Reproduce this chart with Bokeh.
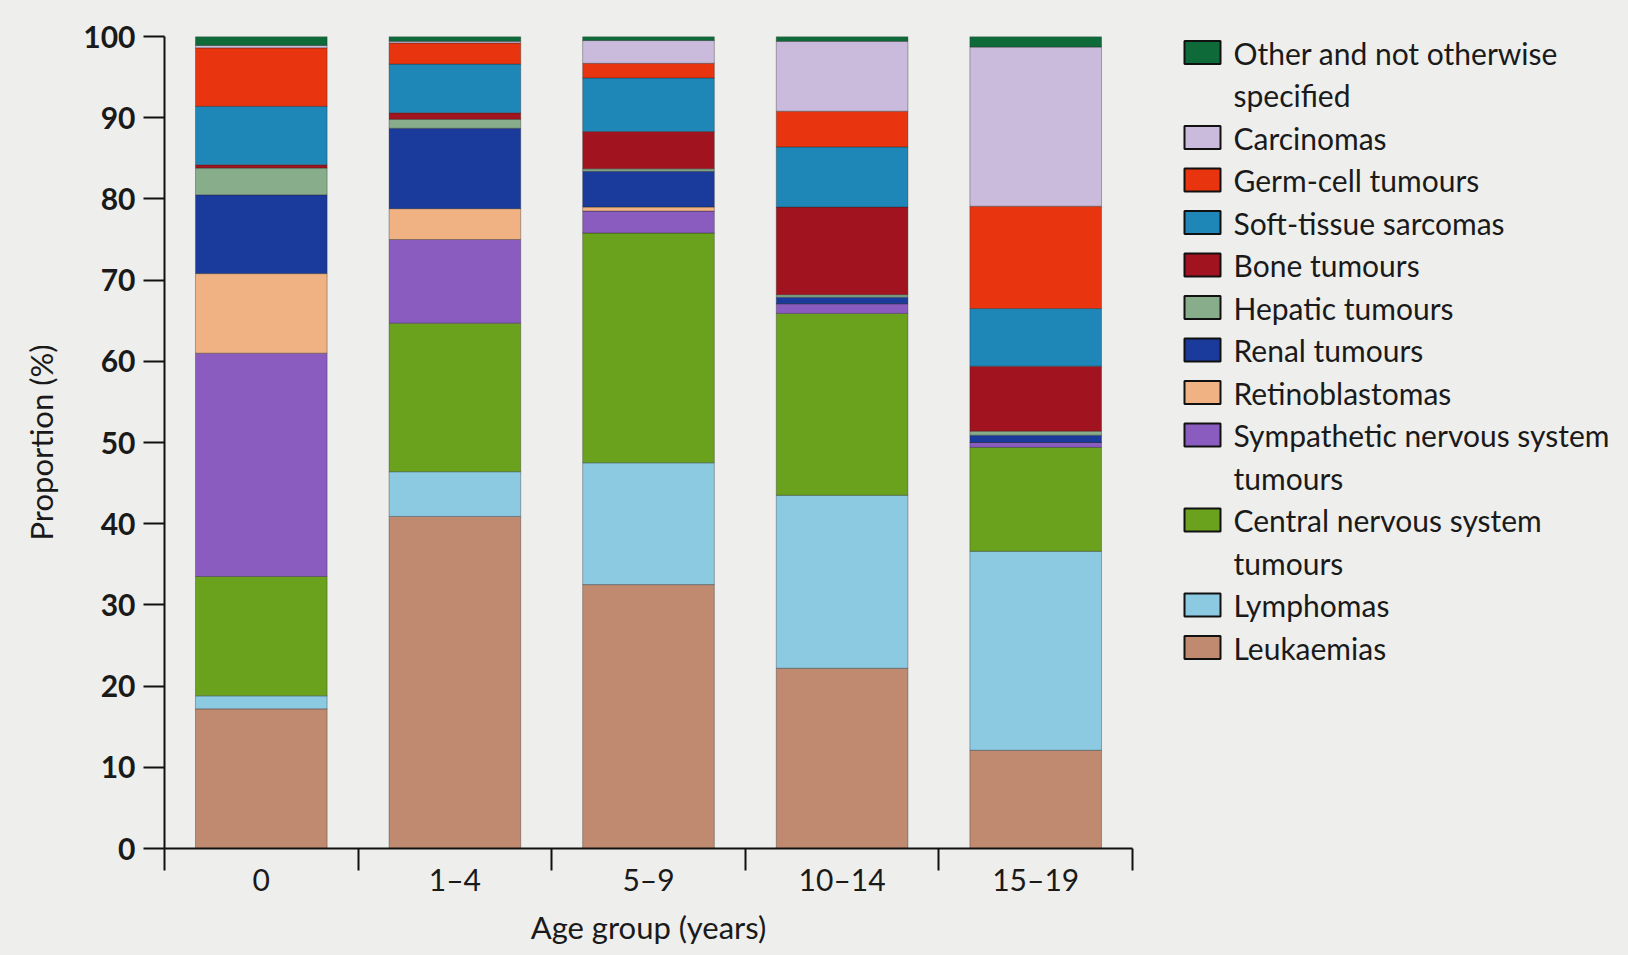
from bokeh.plotting import figure
from bokeh.models import ColumnDataSource, FixedTicker, Range1d
from bokeh.layouts import row
from bokeh.core.properties import value
from bokeh.embed import file_html
from bokeh.resources import INLINE

# ---------------- data ----------------
categories = ["0", "1–4", "5–9", "10–14", "15–19"]

leukaemias = [17.2, 40.9, 32.5, 22.2, 12.1]
lymphomas = [1.6, 5.5, 15.0, 21.3, 24.5]
cns_tumours = [14.7, 18.3, 28.3, 22.4, 12.8]
sns_tumours = [27.5, 10.3, 2.7, 1.2, 0.6]
retinoblastomas = [9.8, 3.8, 0.5, 0.0, 0.0]
renal_tumours = [9.7, 9.9, 4.4, 0.8, 0.9]
hepatic_tumours = [3.3, 1.1, 0.3, 0.3, 0.5]
bone_tumours = [0.4, 0.8, 4.6, 10.8, 8.0]
soft_tissue_sarcomas = [7.2, 6.0, 6.6, 7.4, 7.1]
germ_cell_tumours = [7.2, 2.6, 1.8, 4.4, 12.6]
carcinomas = [0.3, 0.2, 2.8, 8.6, 19.6]
other_nos = [1.1, 0.6, 0.5, 0.6, 1.3]

# stacking order, bottom to top
series_keys = ["leuk", "lymph", "cns", "sns", "retino", "renal",
               "hepatic", "bone", "sts", "gct", "carc", "other"]
series_values = [leukaemias, lymphomas, cns_tumours, sns_tumours, retinoblastomas,
                 renal_tumours, hepatic_tumours, bone_tumours, soft_tissue_sarcomas,
                 germ_cell_tumours, carcinomas, other_nos]
series_labels = ["Leukaemias", "Lymphomas", "Central nervous system\ntumours",
                 "Sympathetic nervous system\ntumours", "Retinoblastomas",
                 "Renal tumours", "Hepatic tumours", "Bone tumours",
                 "Soft-tissue sarcomas", "Germ-cell tumours", "Carcinomas",
                 "Other and not otherwise\nspecified"]
series_colors = ["#c08a70", "#8ccae2", "#6aa21e", "#8a5cc0", "#f0b282", "#1a3a9c",
                 "#87ad8b", "#a1141f", "#1f86b8", "#e8340f", "#cabbdd", "#0f6a3a"]

y_ticks = list(range(0, 101, 10))

BG = "#eeeeec"
FONT = "Lato"
TOP, BOTTOM = 36, 848   # frame edges in page pixels
H = 955

# ---------------- main chart ----------------
xpos = [i + 0.5 for i in range(len(categories))]
data = {"x": xpos}
for k, v in zip(series_keys, series_values):
    data[k] = v
source = ColumnDataSource(data)

p = figure(width=1160, height=H, x_range=Range1d(0, len(categories)),
           y_range=Range1d(0, 100), output_backend="svg", toolbar_location=None,
           min_border_left=164, min_border_right=28, min_border_top=TOP,
           min_border_bottom=H - BOTTOM)
p.background_fill_color = None
p.border_fill_color = BG
p.outline_line_color = None
p.xgrid.visible = False
p.ygrid.visible = False

p.vbar_stack(series_keys, x="x", width=0.68, color=series_colors, source=source,
             line_color="#222222", line_alpha=0.35, line_width=1)

# y axis
ya = p.yaxis[0]
ya.ticker = FixedTicker(ticks=y_ticks)
ya.major_tick_out = 21
ya.major_tick_in = 0
ya.minor_tick_out = 0
ya.minor_tick_in = 0
ya.axis_line_width = 2
ya.major_tick_line_width = 2
ya.axis_line_color = "#111111"
ya.major_tick_line_color = "#111111"
ya.major_label_standoff = 8
ya.major_label_text_font = FONT
ya.major_label_text_font_size = "30px"
ya.major_label_text_font_style = "bold"
ya.major_label_text_color = "#1a1a1a"
ya.axis_label = "Proportion (%)"
ya.axis_label_text_font = FONT
ya.axis_label_text_font_size = "31px"
ya.axis_label_text_font_style = "normal"
ya.axis_label_text_color = "#1a1a1a"
ya.axis_label_standoff = 20

# x axis: labels at category centres, ticks at category boundaries
xa = p.xaxis[0]
xa.ticker = FixedTicker(ticks=xpos, minor_ticks=list(range(len(categories) + 1)))
xa.major_label_overrides = {x: c for x, c in zip(xpos, categories)}
xa.major_tick_out = 0
xa.major_tick_in = 0
xa.minor_tick_out = 22
xa.minor_tick_in = 0
xa.minor_tick_line_width = 2
xa.minor_tick_line_color = "#111111"
xa.axis_line_width = 2
xa.axis_line_color = "#111111"
xa.major_label_standoff = -10
xa.major_label_text_font = FONT
xa.major_label_text_font_size = "30px"
xa.major_label_text_color = "#1a1a1a"
xa.axis_label = "Age group (years)"
xa.axis_label_text_font = FONT
xa.axis_label_text_font_size = "31px"
xa.axis_label_text_font_style = "normal"
xa.axis_label_text_color = "#1a1a1a"
xa.axis_label_standoff = 8

# ---------------- legend panel (coordinates = page pixels) ----------------
LX0 = 1160
lg = figure(width=1628 - LX0, height=H, x_range=Range1d(LX0, 1628),
            y_range=Range1d(BOTTOM, TOP),
            output_backend="svg", toolbar_location=None,
            x_axis_location=None, y_axis_location=None,
            min_border_left=0, min_border_right=0, min_border_top=TOP,
            min_border_bottom=H - BOTTOM)
lg.background_fill_color = None
lg.border_fill_color = BG
lg.outline_line_color = None
lg.xgrid.visible = False
lg.ygrid.visible = False

line_y0 = 52
line_step = 42.5
sq_x, sq_y, sq_c = [], [], []
tx, ty, tt = [], [], []
line_idx = 0
for lab, col in zip(reversed(series_labels), reversed(series_colors)):
    parts = lab.split("\n")
    yy = line_y0 + line_step * line_idx
    sq_x.append(1202)
    sq_y.append(yy)
    sq_c.append(col)
    for j, part in enumerate(parts):
        tx.append(1233)
        ty.append(yy + line_step * j)
        tt.append(part)
    line_idx += len(parts)

lg.rect(x=sq_x, y=sq_y, width=36, height=23, fill_color=sq_c,
        line_color="#111111", line_width=2)
lg.text(x=tx, y=ty, text=tt, text_baseline="middle", text_align="left",
        text_font=value(FONT), text_font_size="30px", text_color="#1a1a1a")

layout = row(p, lg, spacing=0, styles={"background-color": BG})
open("out.html", "w").write(file_html(layout, INLINE))
